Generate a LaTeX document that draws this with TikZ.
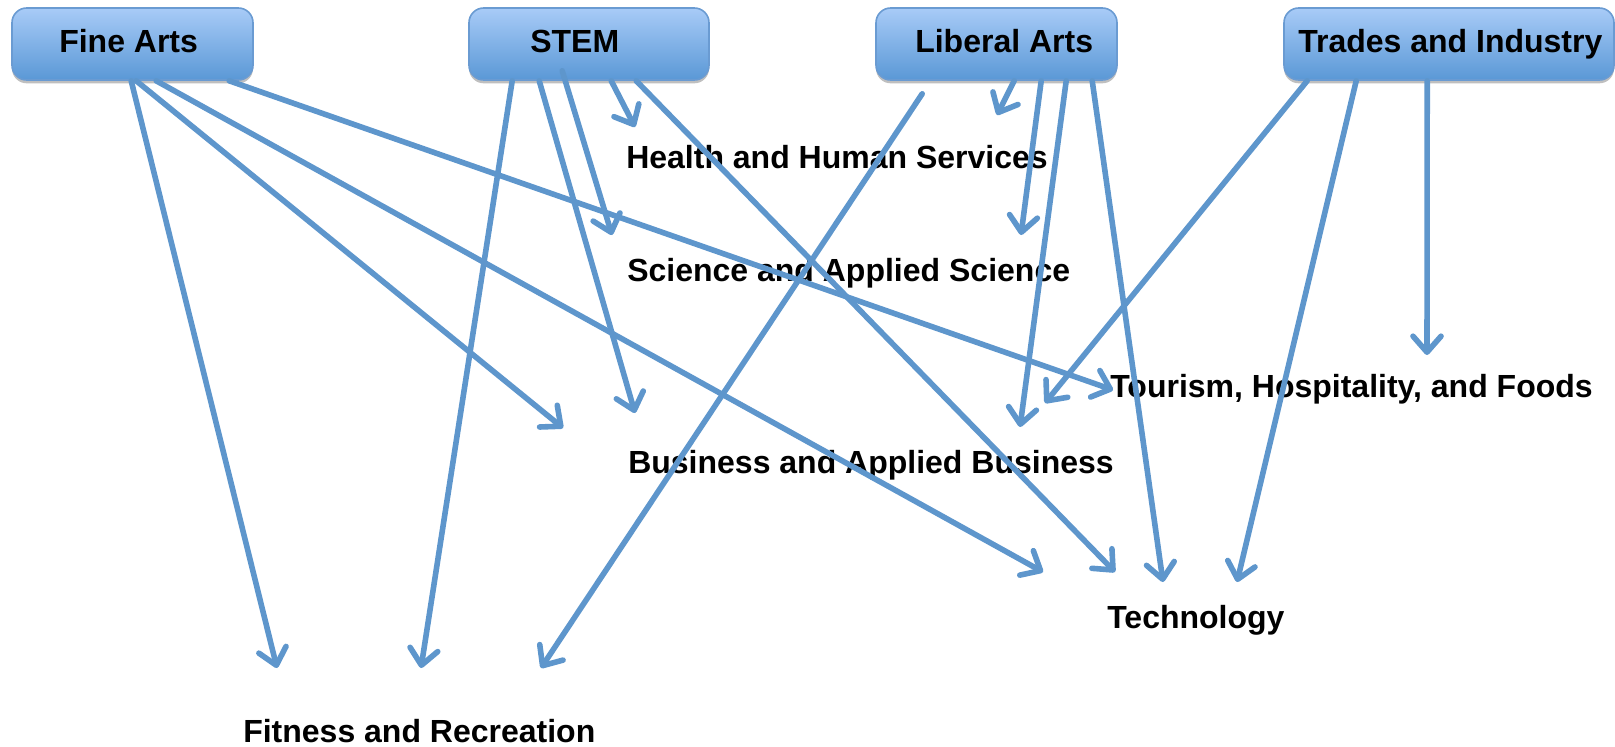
\documentclass[tikz,border=0pt]{standalone}
\usepackage{fontspec}
\setmainfont{Liberation Sans}
\usetikzlibrary{arrows.meta,shadows,calc}
\definecolor{linkblue}{HTML}{5E96CC}
\definecolor{boxtop}{HTML}{A8CBF7}
\definecolor{boxbot}{HTML}{5A98D6}
\definecolor{boxedge}{HTML}{6A9BD2}
\tikzset{
  catbox/.style={draw=boxedge, line width=1.2pt, rounded corners=11pt,
    top color=boxtop, bottom color=boxbot, minimum height=54pt,
    drop shadow={shadow xshift=0pt, shadow yshift=-2.5pt, opacity=0.25, fill=black}},
  boxtext/.style={font=\fontsize{24}{28}\selectfont\bfseries, inner sep=0pt, anchor=base west},
  lbl/.style={font=\fontsize{24}{28}\selectfont\bfseries, inner sep=0pt, anchor=base west},
  link/.style={draw=linkblue, line width=4.2pt, line cap=round,
    -{Straight Barb[length=12pt, width=21pt, line cap=round, line join=round]}}
}
\begin{document}
\begin{tikzpicture}[x=0.75pt, y=-0.75pt]
\useasboundingbox (0,0) rectangle (1615,746);
% category boxes
\node[catbox, minimum width=180.75pt] (fine) at (132.5,44) {};
\node[catbox, minimum width=180pt] (stem) at (589,44) {};
\node[catbox, minimum width=180.75pt] (lib) at (996.5,44) {};
\node[catbox, minimum width=247.5pt] (trades) at (1449,44) {};
\node[boxtext] (fineT) at (59,52) {Fine Arts};
\node[boxtext] (stemT) at (530,52) {STEM};
\node[boxtext] (libT) at (915,52) {Liberal Arts};
\node[boxtext] (tradesT) at (1298,52) {Trades and Industry};
% outcome labels
\node[lbl] (health) at (626,168) {Health and Human Services};
\node[lbl] (science) at (627,281) {Science and Applied Science};
\node[lbl] (tourism) at (1110,397) {Tourism, Hospitality, and Foods};
\node[lbl] (business) at (628,473) {Business and Applied Business};
\node[lbl] (tech) at (1107,628) {Technology};
\node[lbl] (fitness) at (243,742) {Fitness and Recreation};
% arrow tips
\coordinate (f1) at (277,668);
\coordinate (f2) at (563,428);
\coordinate (f3) at (1043,572);
\coordinate (f4) at (1113,390);
\coordinate (s1) at (421,668);
\coordinate (s2) at (635,413);
\coordinate (s3) at (612,235);
\coordinate (s4) at (635,127);
\coordinate (s5) at (1115,572);
\coordinate (l1) at (541,668);
\coordinate (l2) at (997,115);
\coordinate (l3) at (1021,235);
\coordinate (l4) at (1020,427);
\coordinate (l5) at (1163,582);
\coordinate (t1) at (1045,403);
\coordinate (t2) at (1237,582);
\coordinate (t3) at (1427,355);
% connectors
\draw[link] ($(fine.south west)+(120,0)$) -- (f1);
\draw[link] ($(fine.south west)+(125,0)$) -- (f2);
\draw[link] ($(fine.south west)+(145,0)$) -- (f3);
\draw[link] ($(fine.south west)+(218,0)$) -- (f4);
\draw[link] ($(stem.south west)+(44,0)$) -- (s1);
\draw[link] ($(stem.south west)+(71,0)$) -- (s2);
\draw[link] ($(stem.south west)+(94,-10)$) -- (s3);
\draw[link] ($(stem.south west)+(143,0)$) -- (s4);
\draw[link] ($(stem.south west)+(168,0)$) -- (s5);
\draw[link] ($(lib.south west)+(47,13)$) -- (l1);
\draw[link] ($(lib.south west)+(139,0)$) -- (l2);
\draw[link] ($(lib.south west)+(166,0)$) -- (l3);
\draw[link] ($(lib.south west)+(191,0)$) -- (l4);
\draw[link] ($(lib.south west)+(217,0)$) -- (l5);
\draw[link] ($(trades.south west)+(24,0)$) -- (t1);
\draw[link] ($(trades.south west)+(73,0)$) -- (t2);
\draw[link] ($(trades.south west)+(144,0)$) -- (t3);
\end{tikzpicture}
\end{document}
